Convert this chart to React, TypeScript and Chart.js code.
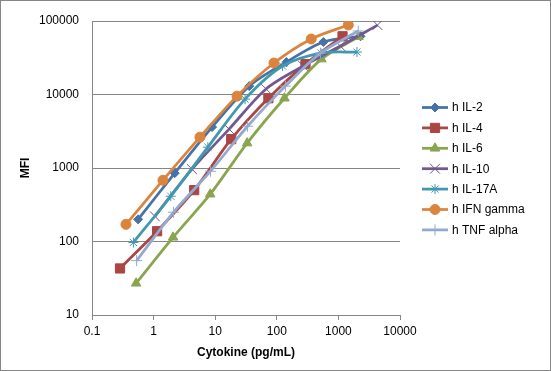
import React, { useEffect, useRef } from 'react';
import { Chart, registerables } from 'chart.js';
import { drawPoint } from 'chart.js/helpers';

Chart.register(...registerables);

// ---- data ----
const seriesNames = ['h IL-2', 'h IL-4', 'h IL-6', 'h IL-10', 'h IL-17A', 'h IFN gamma', 'h TNF alpha'];

const il2X = [0.56, 2.2, 8.9, 35.7, 143, 571, 2285];
const il2Y = [200, 850, 3600, 13000, 27600, 51800, 62000];

const il4X = [0.285, 1.14, 4.56, 18.2, 73, 292, 1167];
const il4Y = [43, 138, 500, 2470, 8900, 25900, 62000];

const il6X = [0.52, 2.07, 8.3, 33, 133, 530, 2120];
const il6Y = [27, 114, 440, 2180, 8900, 30300, 61000];

const il10X = [1.05, 4.2, 16.8, 67, 269, 1075, 4300];
const il10Y = [220, 964, 3380, 11900, 24400, 45600, 88000];

const il17aX = [0.47, 1.9, 7.6, 30.5, 124, 520, 2000];
const il17aY = [97, 413, 1920, 8650, 24400, 36600, 37800];

const ifnX = [0.356, 1.42, 5.66, 22.6, 90, 362, 1448];
const ifnY = [171, 682, 2630, 9500, 26800, 56900, 88300];

const tnfX = [0.53, 2.1, 8.4, 33.5, 138, 510, 2100];
const tnfY = [55, 250, 904, 3700, 13000, 36600, 73100];

const xTickValues = [0.1, 1, 10, 100, 1000, 10000];
const yTickValues = [10, 100, 1000, 10000, 100000];

const xTitle = 'Cytokine (pg/mL)';
const yTitle = 'MFI';

// ---- styles ----
const colors = ['#4572A7', '#AA4643', '#89A54E', '#71588F', '#4198AF', '#DB843D', '#93A9CF'];
const pointStyles = ['rectRot', 'rect', 'triangle', 'crossRot', 'star', 'circle', 'cross'];
const pointRadii = [4.5, 6.5, 5.5, 7, 5, 5, 5.5];
const pointBorderWidths = [1, 1, 1, 1, 1, 1, 1];

const xs = [il2X, il4X, il6X, il10X, il17aX, ifnX, tnfX];
const ys = [il2Y, il4Y, il6Y, il10Y, il17aY, ifnY, tnfY];

const FONT = '"Liberation Sans", Arial, sans-serif';

const decorPlugin = {
  id: 'decor',
  beforeDraw(chart: any) {
    const ctx = chart.ctx;
    ctx.save();
    ctx.fillStyle = '#ffffff';
    ctx.fillRect(0, 0, chart.width, chart.height);
    ctx.strokeStyle = '#868686';
    ctx.lineWidth = 1;
    ctx.strokeRect(0.5, 0.5, chart.width - 1, chart.height - 1);
    ctx.restore();
  },
  afterDraw(chart: any) {
    const ctx = chart.ctx;
    const area = chart.chartArea;
    ctx.save();
    ctx.fillStyle = '#000000';
    ctx.font = 'bold 12px ' + FONT;
    ctx.textAlign = 'center';
    ctx.textBaseline = 'middle';
    ctx.fillText(xTitle, (area.left + area.right) / 2, 353);
    ctx.save();
    ctx.translate(26, (area.top + area.bottom) / 2);
    ctx.rotate(-Math.PI / 2);
    ctx.fillText(yTitle, 0, 0);
    ctx.restore();

    // legend
    ctx.font = '12px ' + FONT;
    ctx.textAlign = 'left';
    chart.data.datasets.forEach((ds: any, i: number) => {
      const y = 107.5 + i * 20.4;
      ctx.strokeStyle = ds.borderColor;
      ctx.lineWidth = 2.75;
      ctx.lineCap = 'butt';
      ctx.beginPath();
      ctx.moveTo(422, y);
      ctx.lineTo(448, y);
      ctx.stroke();
      ctx.fillStyle = ds.pointBackgroundColor;
      ctx.strokeStyle = ds.pointBorderColor;
      ctx.lineWidth = ds.pointBorderWidth;
      drawPoint(ctx, { pointStyle: ds.pointStyle, radius: ds.pointRadius, borderWidth: ds.pointBorderWidth, rotation: 0 }, 435, y);
      ctx.fillStyle = '#000000';
      ctx.fillText(ds.label, 452, y + 0.5);
    });
    ctx.restore();
  },
};

export default function App() {
  const ref = useRef<HTMLCanvasElement>(null);
  useEffect(() => {
    document.body.style.margin = '0';
    const canvas = ref.current!;
    const datasets = seriesNames.map((name, i) => ({
      label: name,
      data: xs[i].map((x, j) => ({ x, y: ys[i][j] })),
      borderColor: colors[i],
      backgroundColor: colors[i],
      pointBackgroundColor: colors[i],
      pointBorderColor: colors[i],
      pointStyle: pointStyles[i],
      pointRadius: pointRadii[i],
      pointBorderWidth: pointBorderWidths[i],
      borderWidth: 2.75,
      tension: 0.3,
      fill: false,
      order: seriesNames.length - i,
    }));
    const chart = new Chart(canvas, {
      type: 'line',
      data: { datasets },
      options: {
        responsive: false,
        animation: false,
        devicePixelRatio: 1,
        layout: { padding: { left: 0, right: 151, top: 21, bottom: 0 } },
        plugins: { legend: { display: false }, tooltip: { enabled: false } },
        scales: {
          x: {
            type: 'logarithmic',
            min: 0.1,
            max: 10000,
            afterBuildTicks: (scale: any) => {
              scale.ticks = xTickValues.map((v) => ({ value: v }));
            },
            afterFit: (scale: any) => {
              scale.height = 371 - 315;
            },
            grid: {
              drawOnChartArea: false,
              drawTicks: true,
              tickLength: 5,
              color: '#868686',
            },
            border: { display: true, color: '#868686', width: 1 },
            ticks: {
              autoSkip: false,
              maxRotation: 0,
              padding: 4,
              color: '#000000',
              font: { family: FONT, size: 12 },
              callback: (v: any) => String(v),
            },
          },
          y: {
            type: 'logarithmic',
            min: 10,
            max: 100000,
            afterBuildTicks: (scale: any) => {
              scale.ticks = yTickValues.map((v) => ({ value: v }));
            },
            afterFit: (scale: any) => {
              scale.width = 92;
            },
            grid: { drawTicks: false, color: '#868686' },
            border: { display: true, color: '#868686', width: 1 },
            ticks: {
              padding: 13,
              color: '#000000',
              font: { family: FONT, size: 12 },
              callback: (v: any) => String(v),
            },
          },
        },
      },
      plugins: [decorPlugin],
    } as any);
    return () => chart.destroy();
  }, []);
  return <canvas ref={ref} width={551} height={371} style={{ display: 'block' }} />;
}
